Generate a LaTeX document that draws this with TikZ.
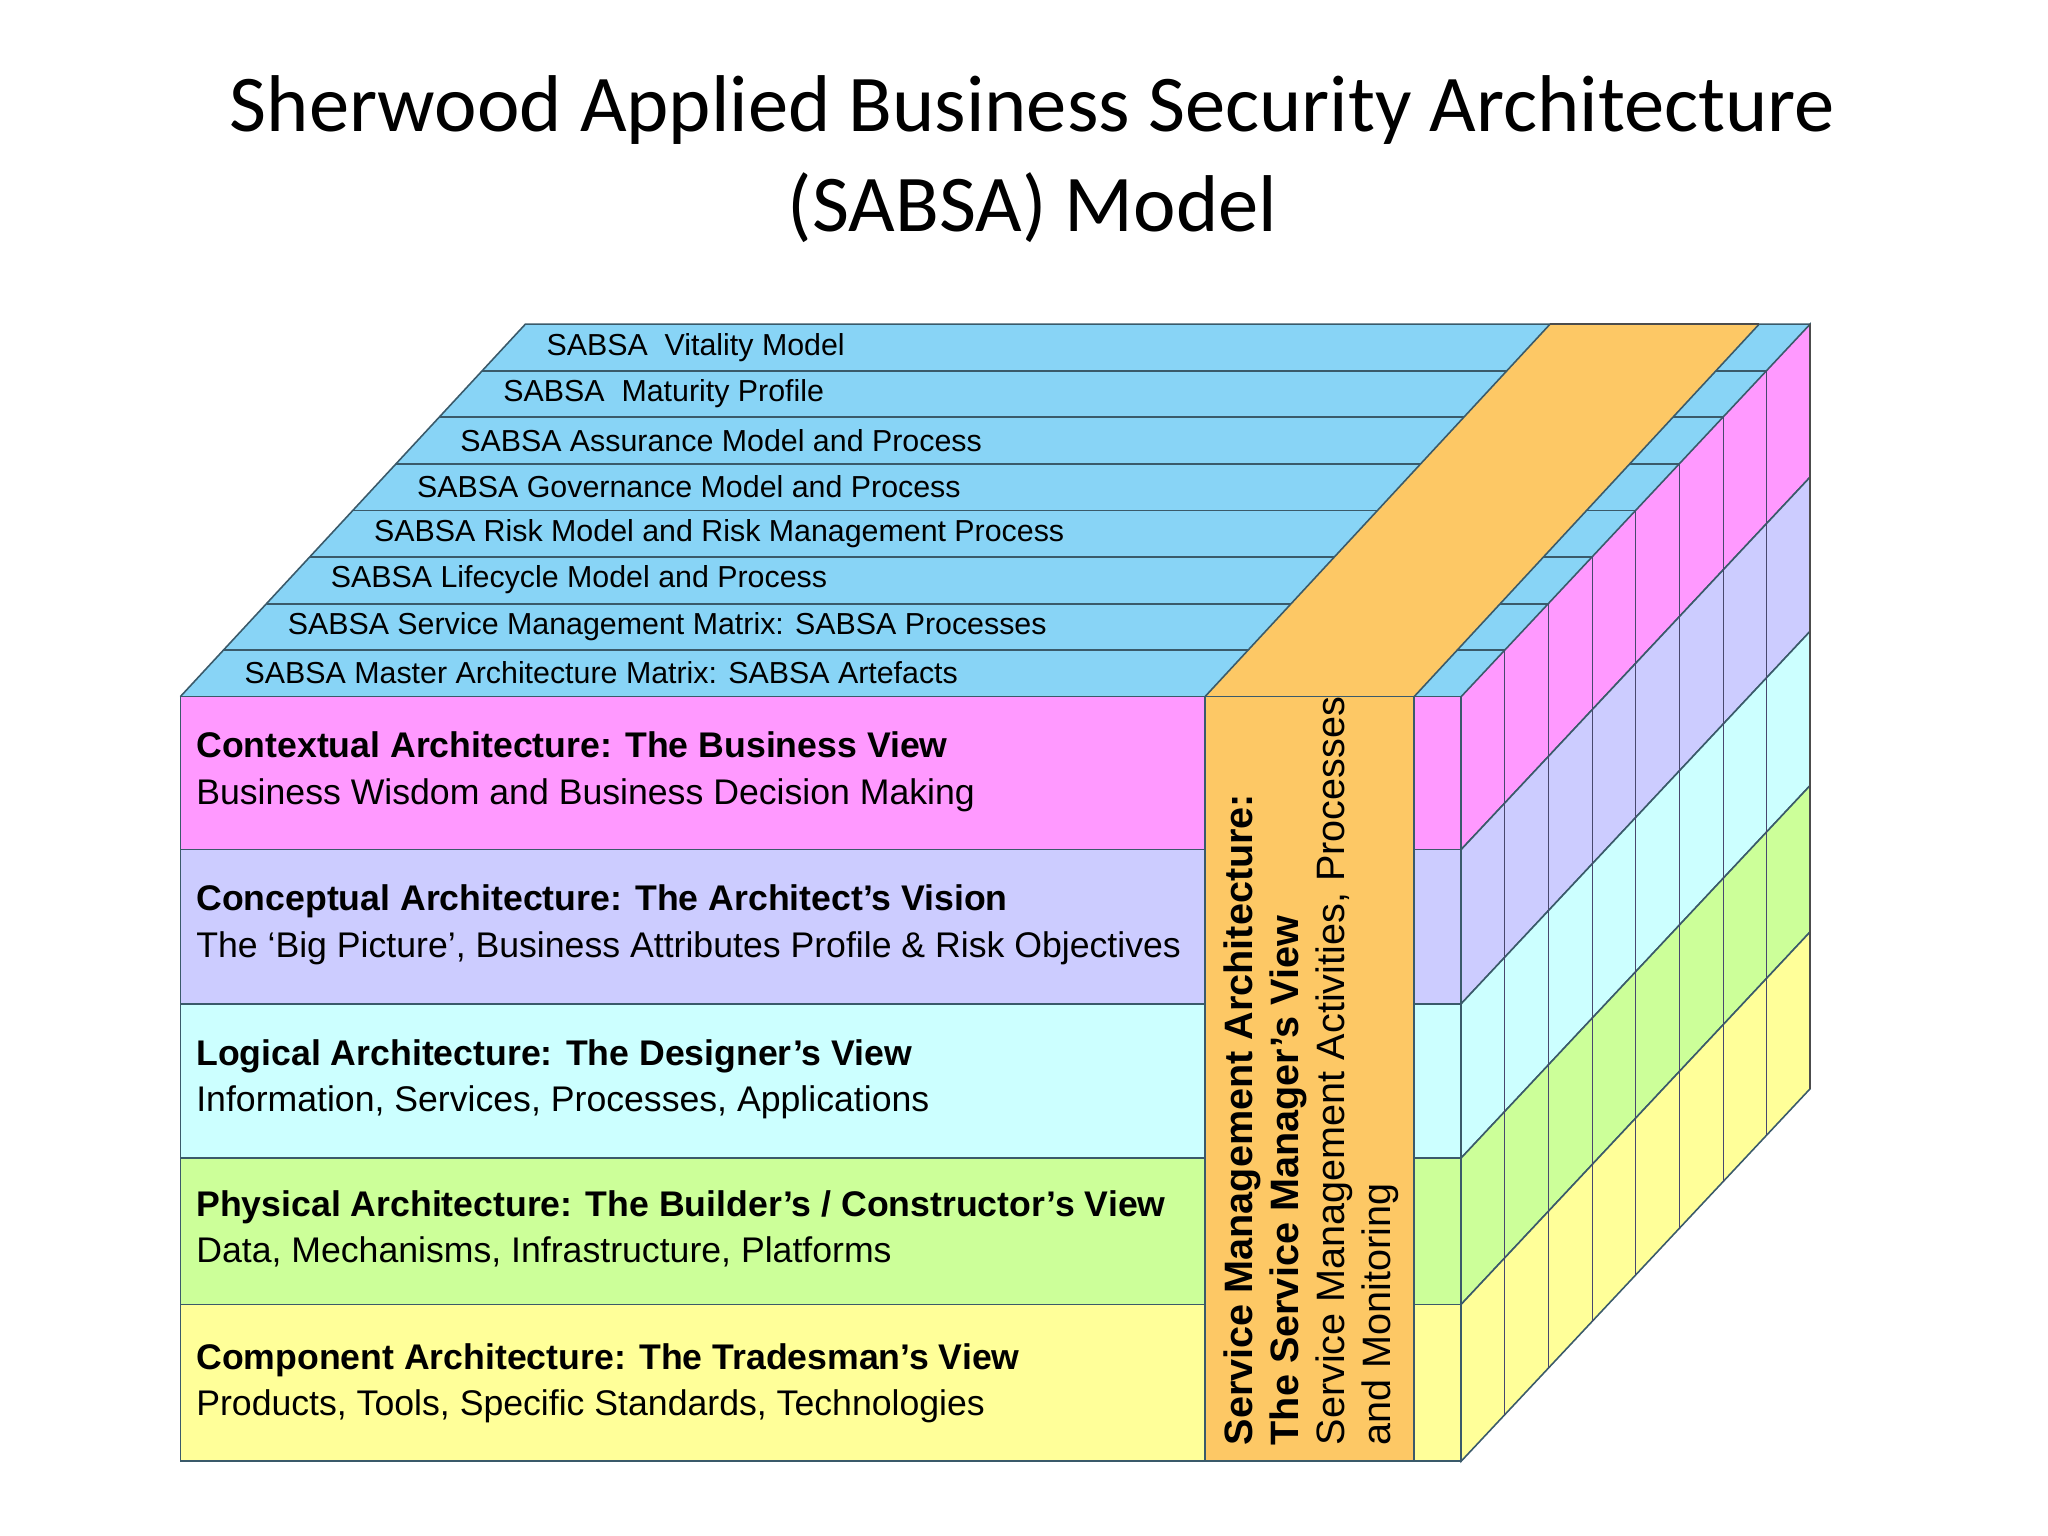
\documentclass[tikz,border=0pt]{standalone}
\usepackage{fontspec}
\setmainfont{Liberation Sans}
\newfontfamily\titlefont{Carlito}
\definecolor{cblue}{HTML}{88D4F6}
\definecolor{corange}{HTML}{FDC865}
\definecolor{cpink}{HTML}{FF99FF}
\definecolor{clav}{HTML}{CCCCFF}
\definecolor{ccyan}{HTML}{CCFFFF}
\definecolor{cgreen}{HTML}{CCFF99}
\definecolor{cyel}{HTML}{FFFF99}
\definecolor{edge}{HTML}{3A5A6A}
\tikzset{
 face/.style={draw=edge, line width=1.2pt},
 bandtxt/.style={anchor=west, font=\fontsize{23}{26}\selectfont, inner sep=0pt},
 rowtxt/.style={anchor=north west, align=left, font=\fontsize{27}{35}\selectfont, inner sep=0pt},
}
\begin{document}
\begin{tikzpicture}[x=0.99pt,y=-0.99pt]
\useasboundingbox (0,0) rectangle (1567,1175);
\node[font=\titlefont\fontsize{61}{76}\selectfont, align=center] (title) at (790,122) {Sherwood Applied Business Security Architecture\\(SABSA) Model};
% top face
\fill[cblue] (138,533) -- (1118,533) -- (1385,248) -- (402,248) -- cycle;
\foreach \k in {1,...,7}{
 \draw[edge, line width=1.5pt] ({138+\k*33},{533-\k*35.6}) -- ({1118+\k*33.4},{533-\k*35.6});
}
\draw[face] (138,533) -- (402,248) -- (1385,248);
\fill[corange] (922,533) -- (1082,533) -- (1346,248) -- (1186,248) -- cycle;
\draw[face] (922,533) -- (1186,248) (1082,533) -- (1346,248);
\draw[line width=1.5pt, black!70] (1186,248) -- (1346,248);
% band labels
\foreach \k/\t in {0/SABSA Master Architecture Matrix: SABSA Artefacts,
 1/SABSA Service Management Matrix: SABSA Processes,
 2/SABSA Lifecycle Model and Process,
 3/SABSA Risk Model and Risk Management Process,
 4/SABSA Governance Model and Process,
 5/SABSA Assurance Model and Process,
 6/SABSA\ \ Maturity Profile,
 7/SABSA\ \ Vitality Model}{
 \node[bandtxt] (b\k) at ({187+\k*33},{515-\k*35.6}) {\t};
}
% front rows and side face rows
\foreach \a/\b/\c in {533/650/cpink,650/768/clav,768/886/ccyan,886/998/cgreen,998/1118/cyel}{
 \filldraw[face, fill=\c] (138,\a) rectangle (1118,\b);
 \filldraw[face, fill=\c] (1118,\a) -- (1385,{\a-285}) -- (1385,{\b-285}) -- (1118,\b) -- cycle;
}
\foreach \k in {1,...,7}{
 \draw[edge!80!violet, line width=0.9pt] ({1118+\k*33.4},{533-\k*35.6}) -- ({1118+\k*33.4},{1118-\k*35.6});
}
\draw[face] (1082,533) -- (1082,1118);
\filldraw[face, fill=corange] (922,533) rectangle (1082,1118);
\draw[line width=1.5pt, black!70] (1385,248) -- (1385,833);
% row labels
\node[rowtxt] (r1) at (150,560) {\textbf{Contextual Architecture: The Business View}\\Business Wisdom and Business Decision Making};
\node[rowtxt] (r2) at (150,677) {\textbf{Conceptual Architecture: The Architect’s Vision}\\The ‘Big Picture’, Business Attributes Profile \& Risk Objectives};
\node[rowtxt] (r3) at (150,795) {\textbf{Logical Architecture: The Designer’s View}\\Information, Services, Processes, Applications};
\node[rowtxt] (r4) at (150,911) {\textbf{Physical Architecture: The Builder’s / Constructor’s View}\\Data, Mechanisms, Infrastructure, Platforms};
\node[rowtxt] (r5) at (150,1028) {\textbf{Component Architecture: The Tradesman’s View}\\Products, Tools, Specific Standards, Technologies};
% orange column text
\node[rotate=90, anchor=north west, align=left, inner sep=0pt, font=\fontsize{30}{35}\selectfont] (svc) at (936,1106)
 {\textbf{Service Management Architecture:}\\\textbf{The Service Manager’s View}\\Service Management Activities, Processes\\and Monitoring};
\end{tikzpicture}
\end{document}
